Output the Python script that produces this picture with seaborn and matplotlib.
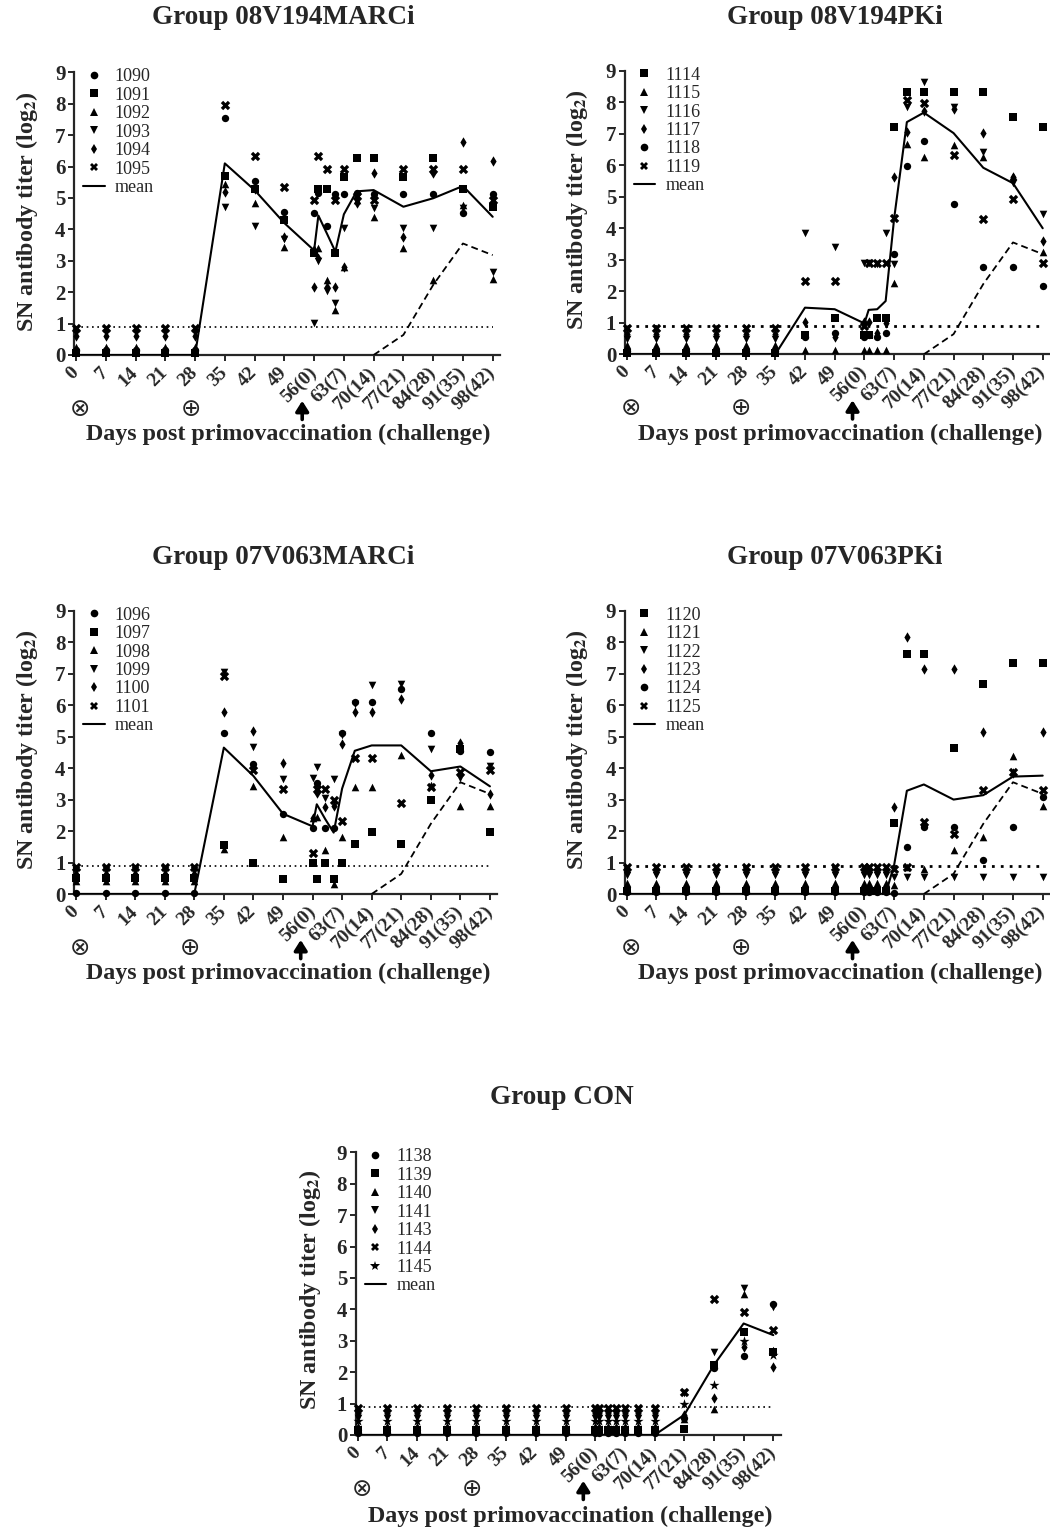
import matplotlib
matplotlib.use("Agg")
import matplotlib.pyplot as plt
import pandas as pd
import seaborn as sns
from matplotlib.lines import Line2D

# ---------------- data ----------------
DAYS = [0, 7, 14, 21, 28, 35, 42, 49, 56, 57, 59, 61, 63, 66, 70, 77, 84, 91, 98]
TICK_DAYS = [0, 7, 14, 21, 28, 35, 42, 49, 56, 63, 70, 77, 84, 91, 98]
TICK_LABELS = ["0", "7", "14", "21", "28", "35", "42", "49", "56(0)", "63(7)",
               "70(14)", "77(21)", "84(28)", "91(35)", "98(42)"]
CON_REF_DAYS = [70, 77, 84, 91, 98]
CON_REF_MEAN = [0.0, 0.64, 2.23, 3.55, 3.18]
DETECTION_LIMIT = 0.9

# Group 08V194MARCi
G1_IDS = ["1090", "1091", "1092", "1093", "1094", "1095"]
G1_MARKERS = ["o", "s", "^", "v", "d", "X"]
G1_1090 = [0.15, 0.15, 0.15, 0.15, 0.15, 7.55, 5.55, 4.55, 4.51, 5.15, 4.12, 5.13, 5.13, 5.15, 5.13, 5.13, 5.13, 4.51, 5.13]
G1_1091 = [0.05, 0.05, 0.05, 0.05, 0.05, 5.70, 5.30, 4.30, 3.26, 5.27, 5.27, 3.26, 5.67, 6.28, 6.28, 5.67, 6.28, 5.27, 4.70]
G1_1092 = [0.25, 0.25, 0.25, 0.25, 0.25, 5.45, 4.85, 3.45, 3.40, 3.40, 2.39, 1.43, 2.80, 4.95, 4.40, 3.42, 2.39, 4.77, 2.41]
G1_1093 = [0.70, 0.70, 0.70, 0.70, 0.70, 4.70, 4.10, 3.70, 1.01, 3.00, 2.05, 1.64, 4.03, 4.90, 4.67, 4.03, 4.03, 4.67, 2.65]
G1_1094 = [0.60, 0.60, 0.60, 0.60, 0.60, 5.20, 5.30, 3.75, 2.17, 3.10, 2.15, 2.17, 2.79, 4.85, 5.78, 3.77, 5.80, 6.78, 6.18]
G1_1095 = [0.85, 0.85, 0.85, 0.85, 0.85, 7.95, 6.35, 5.35, 4.93, 6.34, 5.93, 4.93, 5.93, 5.05, 4.93, 5.93, 5.93, 5.93, 4.93]
G1_MEAN = [0, 0, 0, 0, 0, 6.10, 5.25, 4.20, 3.33, 4.44, 3.87, 3.29, 4.48, 5.21, 5.25, 4.72, 4.99, 5.38, 4.40]

# Group 08V194PKi
G2_IDS = ["1114", "1115", "1116", "1117", "1118", "1119"]
G2_MARKERS = ["s", "^", "v", "d", "o", "X"]
G2_1114 = [0.05, 0.05, 0.05, 0.05, 0.05, 0.05, 0.62, 1.15, 0.60, 0.60, 1.15, 1.15, 7.22, 8.33, 8.33, 8.33, 8.33, 7.52, 7.22]
G2_1115 = [0.30, 0.30, 0.30, 0.30, 0.30, 0.30, 0.14, 0.14, 0.14, 0.14, 0.14, 0.14, 2.27, 6.68, 6.25, 6.65, 6.25, 5.66, 3.26]
G2_1116 = [0.50, 0.50, 0.50, 0.50, 0.50, 0.50, 3.84, 3.42, 2.89, 2.89, 2.85, 3.84, 2.85, 7.86, 8.63, 7.86, 6.43, 5.43, 4.44]
G2_1117 = [0.65, 0.65, 0.65, 0.65, 0.65, 0.65, 1.04, 0.56, 1.04, 1.04, 0.67, 1.00, 5.64, 7.04, 7.72, 7.78, 7.02, 5.62, 3.61]
G2_1118 = [0.10, 0.10, 0.10, 0.10, 0.10, 0.10, 0.56, 0.67, 0.55, 0.60, 0.56, 0.67, 3.17, 5.98, 6.78, 4.77, 2.76, 2.76, 2.17]
G2_1119 = [0.85, 0.85, 0.85, 0.85, 0.85, 0.85, 2.33, 2.33, 0.90, 2.91, 2.91, 2.91, 4.31, 8.07, 7.99, 6.32, 4.29, 4.92, 2.91]
G2_MEAN = [0, 0, 0, 0, 0, 0, 1.48, 1.43, 0.98, 1.41, 1.43, 1.69, 4.31, 7.37, 7.67, 7.02, 5.92, 5.43, 4.00]

# Group 07V063MARCi
G3_IDS = ["1096", "1097", "1098", "1099", "1100", "1101"]
G3_MARKERS = ["o", "s", "^", "v", "d", "X"]
G3_1096 = [0.03, 0.03, 0.03, 0.03, 0.03, 5.11, 4.13, 2.53, 2.11, 3.52, 2.11, 2.11, 5.13, 6.11, 6.11, 6.50, 5.13, 4.55, 4.52]
G3_1097 = [0.50, 0.50, 0.50, 0.50, 0.50, 1.57, 0.98, 0.47, 0.97, 0.47, 0.97, 0.47, 0.97, 1.58, 1.98, 1.58, 2.98, 4.60, 1.98]
G3_1098 = [0.40, 0.40, 0.40, 0.40, 0.40, 1.43, 3.42, 1.80, 2.40, 2.45, 1.40, 0.32, 1.82, 3.41, 3.41, 4.41, 3.45, 2.81, 2.81]
G3_1099 = [0.75, 0.75, 0.75, 0.75, 0.75, 7.06, 4.66, 3.64, 3.68, 4.02, 3.04, 3.64, 5.05, 6.05, 6.64, 6.66, 4.62, 3.68, 4.06]
G3_1100 = [0.65, 0.65, 0.65, 0.65, 0.65, 5.77, 5.18, 4.17, 2.43, 3.21, 2.77, 2.81, 4.77, 5.77, 5.77, 6.18, 3.78, 4.79, 3.17]
G3_1101 = [0.85, 0.85, 0.85, 0.85, 0.85, 6.93, 3.94, 3.32, 1.31, 3.35, 3.35, 2.98, 2.32, 4.31, 4.31, 2.90, 3.41, 3.89, 3.94]
G3_MEAN = [0, 0, 0, 0, 0, 4.65, 3.75, 2.55, 2.15, 2.85, 2.38, 1.95, 3.35, 4.55, 4.72, 4.72, 3.90, 4.05, 3.42]

# Group 07V063PKi
G4_IDS = ["1120", "1121", "1122", "1123", "1124", "1125"]
G4_MARKERS = ["s", "^", "v", "d", "o", "X"]
G4_1120 = [0.10, 0.10, 0.10, 0.10, 0.10, 0.10, 0.10, 0.10, 0.10, 0.10, 0.10, 0.10, 2.26, 7.64, 7.64, 4.65, 6.67, 7.35, 7.35]
G4_1121 = [0.35, 0.35, 0.35, 0.35, 0.35, 0.35, 0.35, 0.35, 0.35, 0.35, 0.35, 0.35, 0.29, 0.85, 0.81, 1.39, 1.80, 4.39, 2.79]
G4_1122 = [0.60, 0.60, 0.60, 0.60, 0.60, 0.60, 0.60, 0.60, 0.60, 0.60, 0.60, 0.60, 0.53, 0.53, 0.53, 0.53, 0.53, 0.53, 0.53]
G4_1123 = [0.70, 0.70, 0.70, 0.70, 0.70, 0.70, 0.70, 0.70, 0.70, 0.70, 0.70, 0.70, 2.75, 8.15, 7.15, 7.15, 5.16, 3.85, 5.16]
G4_1124 = [0.05, 0.05, 0.05, 0.05, 0.05, 0.05, 0.05, 0.05, 0.05, 0.05, 0.05, 0.05, 0.02, 1.50, 2.12, 2.12, 1.09, 2.12, 3.09]
G4_1125 = [0.85, 0.85, 0.85, 0.85, 0.85, 0.85, 0.85, 0.85, 0.85, 0.85, 0.85, 0.85, 0.81, 0.87, 2.30, 1.92, 3.30, 3.89, 3.30]
G4_MEAN = [0, 0, 0, 0, 0, 0, 0, 0, 0, 0, 0, 0, 0.92, 3.28, 3.48, 3.00, 3.14, 3.73, 3.76]

# Group CON
G5_IDS = ["1138", "1139", "1140", "1141", "1143", "1144", "1145"]
G5_MARKERS = ["o", "s", "^", "v", "d", "X", "*"]
G5_1138 = [0.05, 0.05, 0.05, 0.05, 0.05, 0.05, 0.05, 0.05, 0.05, 0.05, 0.05, 0.05, 0.05, 0.05, 0.05, 0.55, 2.12, 2.53, 4.16]
G5_1139 = [0.15, 0.15, 0.15, 0.15, 0.15, 0.15, 0.15, 0.15, 0.15, 0.15, 0.15, 0.15, 0.15, 0.15, 0.15, 0.18, 2.23, 3.29, 2.65]
G5_1140 = [0.30, 0.30, 0.30, 0.30, 0.30, 0.30, 0.30, 0.30, 0.30, 0.30, 0.30, 0.30, 0.30, 0.30, 0.30, 0.50, 0.82, 4.49, 2.70]
G5_1141 = [0.55, 0.55, 0.55, 0.55, 0.55, 0.55, 0.55, 0.55, 0.55, 0.55, 0.55, 0.55, 0.55, 0.55, 0.55, 1.35, 2.65, 4.67, 4.08]
G5_1143 = [0.70, 0.70, 0.70, 0.70, 0.70, 0.70, 0.70, 0.70, 0.70, 0.70, 0.70, 0.70, 0.70, 0.70, 0.70, 0.64, 1.19, 2.79, 2.18]
G5_1144 = [0.85, 0.85, 0.85, 0.85, 0.85, 0.85, 0.85, 0.85, 0.85, 0.85, 0.85, 0.85, 0.85, 0.85, 0.85, 1.38, 4.32, 3.93, 3.34]
G5_1145 = [0.45, 0.45, 0.45, 0.45, 0.45, 0.45, 0.45, 0.45, 0.45, 0.45, 0.45, 0.45, 0.45, 0.45, 0.45, 0.99, 1.59, 2.99, 2.55]
G5_MEAN = [0, 0, 0, 0, 0, 0, 0, 0, 0, 0, 0, 0, 0, 0, 0, 0.64, 2.23, 3.55, 3.18]

TITLES = ["Group 08V194MARCi", "Group 08V194PKi", "Group 07V063MARCi",
          "Group 07V063PKi", "Group CON"]
XLABEL = "Days post primovaccination (challenge)"
YLABEL = r"SN antibody titer (log$_\mathbf{2}$)"

# ---------------- style ----------------
sns.set_style("ticks")
plt.rcParams["font.family"] = ["Liberation Serif", "DejaVu Serif"]
plt.rcParams["mathtext.fontset"] = "stix"

W, H = 1050, 1530
fig = plt.figure(figsize=(W / 100, H / 100), dpi=100)

XMIN, XMAX = -0.5, 99.7


def px_axes(x0, ppd, top, bottom):
    left = x0 + XMIN * ppd
    right = x0 + XMAX * ppd
    return fig.add_axes([left / W, 1 - bottom / H, (right - left) / W, (bottom - top) / H])


MSIZE = {"o": 28, "s": 30, "^": 30, "v": 30, "d": 28, "X": 46, "*": 58}

panels = [
    dict(ids=G1_IDS, mk=G1_MARKERS, vals=[G1_1090, G1_1091, G1_1092, G1_1093, G1_1094, G1_1095],
         mean=G1_MEAN, ref=True, box=(76.0, 4.252, 72.3, 355.0), dot_lw=1.2,
         title=(283, 18), xl=(288, 434), yl=(27, 212)),
    dict(ids=G2_IDS, mk=G2_MARKERS, vals=[G2_1114, G2_1115, G2_1116, G2_1117, G2_1118, G2_1119],
         mean=G2_MEAN, ref=True, box=(626.7, 4.245, 70.7, 354.3), dot_lw=2.0,
         title=(835, 18), xl=(840, 434), yl=(577, 210)),
    dict(ids=G3_IDS, mk=G3_MARKERS, vals=[G3_1096, G3_1097, G3_1098, G3_1099, G3_1100, G3_1101],
         mean=G3_MEAN, ref=True, box=(76.0, 4.224, 610.7, 894.0), dot_lw=1.2,
         title=(283, 557), xl=(288, 973), yl=(27, 750)),
    dict(ids=G4_IDS, mk=G4_MARKERS, vals=[G4_1120, G4_1121, G4_1122, G4_1123, G4_1124, G4_1125],
         mean=G4_MEAN, ref=True, box=(626.7, 4.245, 610.7, 894.0), dot_lw=2.0,
         title=(835, 557), xl=(840, 973), yl=(577, 750)),
    dict(ids=G5_IDS, mk=G5_MARKERS, vals=[G5_1138, G5_1139, G5_1140, G5_1141, G5_1143, G5_1144, G5_1145],
         mean=G5_MEAN, ref=False, box=(357.7, 4.241, 1152.3, 1435.0), dot_lw=1.2,
         title=(562, 1098), xl=(570, 1516), yl=(310, 1290)),
]

for i, p in enumerate(panels):
    x0, ppd, top, bottom = p["box"]
    ax = px_axes(x0, ppd, top, bottom)
    ax_h = bottom - top

    for aid, mk, vals in zip(p["ids"], p["mk"], p["vals"]):
        df = pd.DataFrame({"day": DAYS, "titer": vals})
        sns.scatterplot(data=df, x="day", y="titer", marker=mk, color="black",
                        s=MSIZE[mk], linewidth=0, ax=ax, legend=False,
                        clip_on=False, zorder=3)
    sns.lineplot(x=DAYS, y=p["mean"], color="black", lw=1.5, ax=ax,
                 estimator=None, sort=False, zorder=4)
    if p["ref"]:
        sns.lineplot(x=CON_REF_DAYS, y=CON_REF_MEAN, color="black", lw=1.3,
                     linestyle=(0, (3.8, 2.3)), ax=ax, estimator=None, sort=False, zorder=4)
    ax.hlines(DETECTION_LIMIT, 0, 98, colors="black", lw=p["dot_lw"],
              linestyles=(0, (1, 2.2)), zorder=2)

    ax.set_xlim(XMIN, XMAX)
    ax.set_ylim(0, 9)
    ax.set_xticks(TICK_DAYS)
    ax.set_xticklabels(TICK_LABELS, rotation=45, ha="right", va="center",
                       rotation_mode="anchor", fontweight="bold", fontsize=14)
    ax.set_yticks(range(10))
    ax.set_yticklabels([str(v) for v in range(10)], fontweight="bold", fontsize=15)
    ax.set_xlabel("")
    ax.set_ylabel("")
    for s in ["top", "right"]:
        ax.spines[s].set_visible(False)
    for s in ["left", "bottom"]:
        ax.spines[s].set_linewidth(1.6)
    ax.tick_params(axis="both", direction="out", length=4.5, width=1.4, pad=1.5)
    ax.tick_params(axis="x", pad=6)

    # legend
    handles = [Line2D([], [], marker=mk, color="black", linestyle="none",
                      markersize=5.5 if mk != "*" else 7.5, markeredgewidth=0)
               for mk in p["mk"]]
    handles.append(Line2D([], [], color="black", lw=1.5))
    labels = list(p["ids"]) + ["mean"]
    axw_px = (XMAX - XMIN) * ppd
    ax.legend(handles, labels, loc="upper left",
              bbox_to_anchor=(9.0 / axw_px, 1.0 + 4.0 / ax_h), frameon=False,
              fontsize=13, labelspacing=0.08, handlelength=1.2,
              handletextpad=0.55, borderpad=0, borderaxespad=0)

    # vaccination / challenge symbols
    trans = ax.get_xaxis_transform()
    sym_y = -(409 - 355) / 283.0
    ax.text(1.0, sym_y, "\u2297", transform=trans, ha="center", va="center",
            fontsize=17.5, family="DejaVu Sans", clip_on=False)
    ax.text(27.0, sym_y, "\u2295", transform=trans, ha="center", va="center",
            fontsize=17.5, family="DejaVu Sans", clip_on=False)
    ax.annotate("", xy=(53.2, -0.162), xycoords=trans,
                xytext=(53.2, -0.228), textcoords=trans,
                arrowprops=dict(arrowstyle="-|>,head_width=0.24,head_length=0.38",
                                lw=2.6, color="black", shrinkA=0, shrinkB=0,
                                mutation_scale=16),
                annotation_clip=False)

    # titles and labels
    tx, ty = p["title"]
    fig.text(tx / W, 1 - ty / H, TITLES[i], ha="center", va="center",
             fontsize=19.5, fontweight="bold")
    lx, ly = p["xl"]
    fig.text(lx / W, 1 - ly / H, XLABEL, ha="center", va="center",
             fontsize=17.3, fontweight="bold")
    yx, yy = p["yl"]
    fig.text(yx / W, 1 - yy / H, YLABEL, ha="center", va="center",
             rotation=90, fontsize=17.3, fontweight="bold")

fig.savefig("out.png", dpi=100)
